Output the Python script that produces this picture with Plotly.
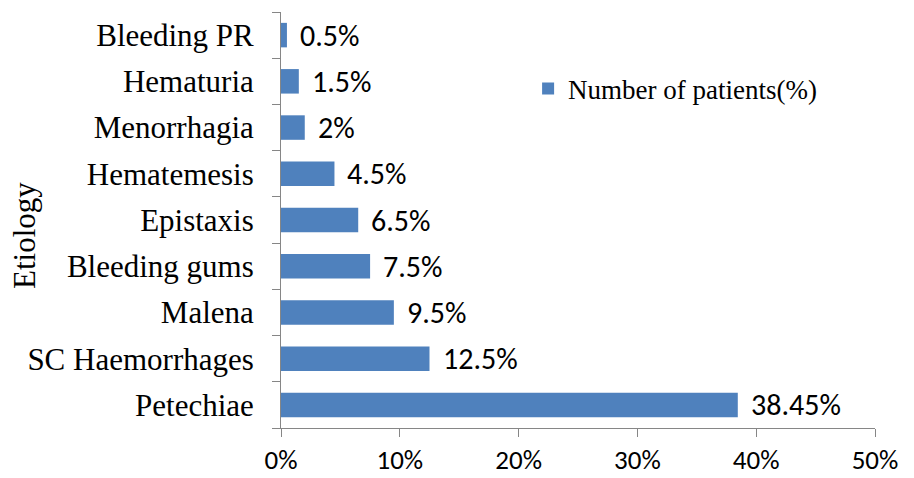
import plotly.graph_objects as go

categories = ["Petechiae", "SC Haemorrhages", "Malena", "Bleeding gums", "Epistaxis",
              "Hematemesis", "Menorrhagia", "Hematuria", "Bleeding PR"]
values = [38.45, 12.5, 9.5, 7.5, 6.5, 4.5, 2, 1.5, 0.5]
labels = ["38.45%", "12.5%", "9.5%", "7.5%", "6.5%", "4.5%", "2%", "1.5%", "0.5%"]
x_ticks = [0, 10, 20, 30, 40, 50]
x_tick_text = ["0%", "10%", "20%", "30%", "40%", "50%"]

sans = "Carlito, Lato, 'Open Sans', sans-serif"
serif = "'Liberation Serif', 'Times New Roman', serif"

fig = go.Figure()
fig.add_trace(go.Bar(
    y=categories, x=values, orientation="h",
    name="Number of patients(%)",
    marker=dict(color="#4F81BD", line=dict(width=0)),
    width=0.53,
))

for cat, val, lab in zip(categories, values, labels):
    fig.add_annotation(x=val, y=cat, text=lab, showarrow=False,
                       xanchor="left", yanchor="middle", xshift=11,
                       font=dict(family=sans, size=30, color="black"))

fig.add_annotation(text="Etiology", xref="paper", yref="paper", x=-0.431, y=0.464,
                   xanchor="center", yanchor="middle", textangle=-90, showarrow=False,
                   font=dict(family=serif, size=31, color="black"))

fig.update_layout(
    width=906, height=470,
    margin=dict(l=273, r=39, t=4, b=50),
    paper_bgcolor="white", plot_bgcolor="white",
    showlegend=True,
    legend=dict(x=0.416, y=0.815, xanchor="left", yanchor="middle",
                font=dict(family=serif, size=27, color="black"),
                bgcolor="rgba(0,0,0,0)"),
    xaxis=dict(range=[0, 50], tickvals=x_ticks, ticktext=x_tick_text,
               showgrid=False, zeroline=False, showline=True, linecolor="#868686",
               ticks="outside", ticklen=8, tickcolor="#868686", ticklabelstandoff=0,
               tickfont=dict(family=sans, size=27, color="black"), automargin=False),
    yaxis=dict(categoryorder="array", categoryarray=categories,
               showgrid=False, showline=True, linecolor="#868686",
               ticks="outside", ticklen=8, tickcolor="#868686", tickson="boundaries",
               ticklabelstandoff=20, automargin=False,
               tickfont=dict(family=serif, size=31, color="black")),
)

fig.write_html("out.html")
